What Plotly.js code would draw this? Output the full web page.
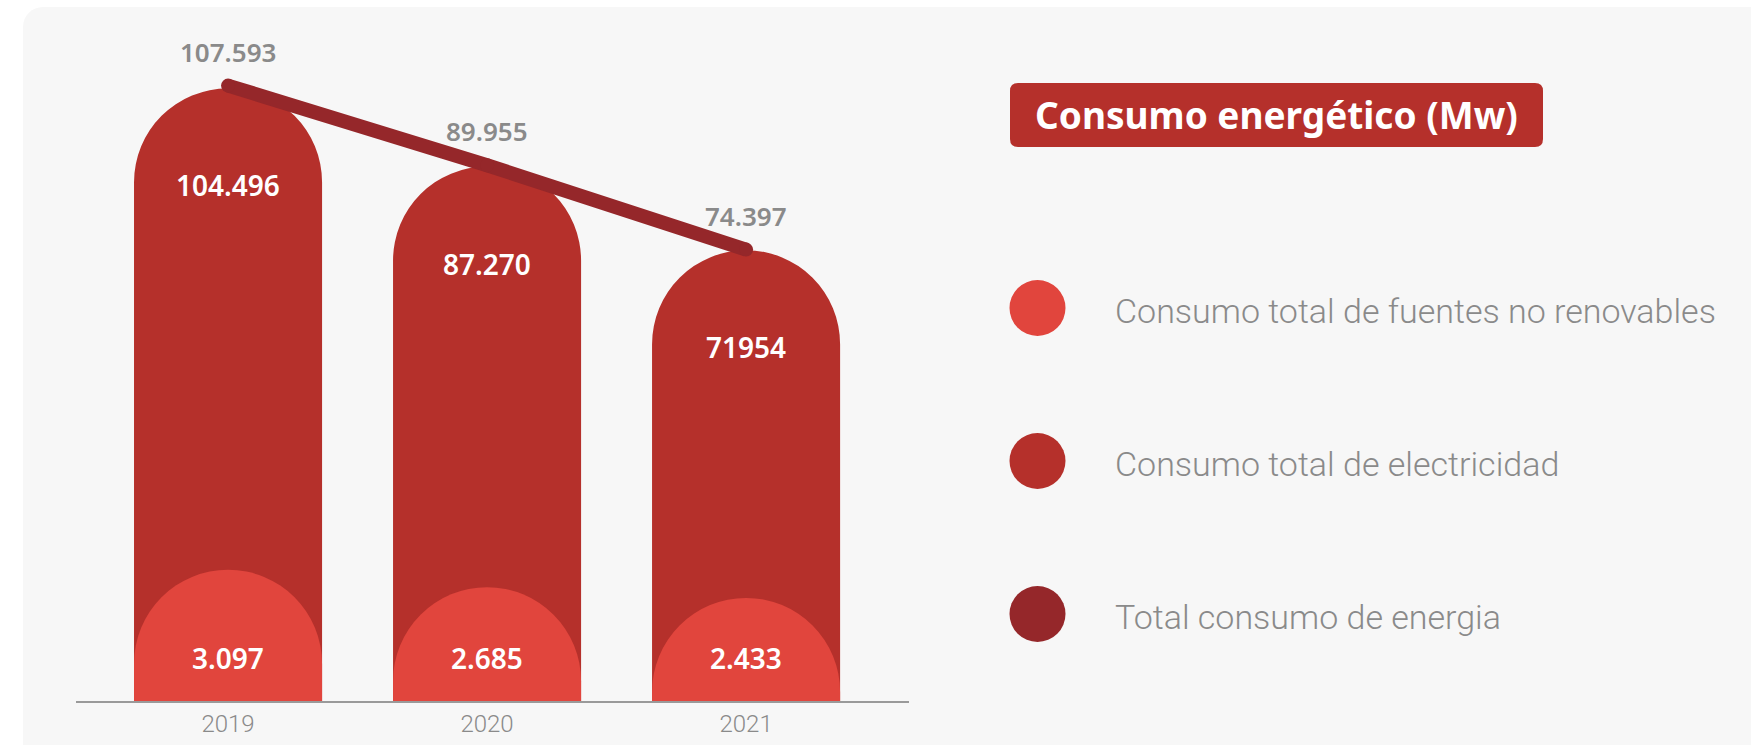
<!DOCTYPE html>
<html><head><meta charset="utf-8">
<script src="https://cdn.plot.ly/plotly-3.0.1.min.js"></script>
<style>
html,body{margin:0;padding:0;background:#ffffff;width:1751px;height:745px;overflow:hidden}
#panel{position:absolute;left:23px;top:7px;width:1770px;height:770px;background:#f7f7f7;border-radius:20px}
#chart{position:absolute;left:0;top:0;width:1751px;height:745px}
</style></head><body>
<div id="panel"></div><div id="chart"></div>
<script>
// ---- data ----
const years = ['2019', '2020', '2021'];
const noRenovables = [3097, 2685, 2433];
const electricidad = [104496, 87270, 71954];
const totalEnergia = [107593, 89955, 74397];
const labelsNoRenovables = ['3.097', '2.685', '2.433'];
const labelsElectricidad = ['104.496', '87.270', '71954'];
const labelsTotal = ['107.593', '89.955', '74.397'];
const seriesNames = ['Consumo total de fuentes no renovables', 'Consumo total de electricidad', 'Total consumo de energia'];
const seriesColors = ['#E1453D', '#B5302B', '#95272A'];
const chartTitle = 'Consumo energético (Mw)';

// ---- helpers (pixel -> paper) ----
const W = 1751, PH = 701;
const fx = p => p / W;
const fy = p => (PH - p) / PH;

const barWidth = 0.726;

const traces = [
  {type:'bar', x: years, y: electricidad, yaxis:'y', width: barWidth,
   marker:{color: seriesColors[1], cornerradius:'50%', line:{width:0}}, name: seriesNames[1], showlegend:false, hoverinfo:'skip'},
  {type:'bar', x: years, y: noRenovables, yaxis:'y2', width: barWidth,
   marker:{color: seriesColors[0], cornerradius:'50%', line:{width:0}}, name: seriesNames[0], showlegend:false, hoverinfo:'skip'},
  {type:'scatter', mode:'lines+markers', x: years, y: totalEnergia, yaxis:'y3',
   line:{color: seriesColors[2], width: 14}, marker:{color: seriesColors[2], size: 14},
   name: seriesNames[2], showlegend:false, hoverinfo:'skip', cliponaxis:false}
];

const annotations = [];
const valFont = (size, color) => ({family:'Noto Sans, Open Sans, sans-serif', size: size, color: color, weight: 600});
years.forEach((yr, i) => {
  annotations.push({xref:'x', yref:'y3', x: i, y: Math.log10(totalEnergia[i]), yshift: 34,
    text: labelsTotal[i], showarrow:false, font: valFont(26, '#8a8a8a'), xanchor:'center', yanchor:'middle'});
  annotations.push({xref:'x', yref:'y', x: i, y: Math.log10(electricidad[i]), yshift: -97,
    text: labelsElectricidad[i], showarrow:false, font: valFont(28, '#ffffff'), xanchor:'center', yanchor:'middle'});
  annotations.push({xref:'x', yref:'paper', x: i, y: 0, yshift: 43,
    text: labelsNoRenovables[i], showarrow:false, font: valFont(28, '#ffffff'), xanchor:'center', yanchor:'middle'});
});

// title
annotations.push({xref:'paper', yref:'paper', x: fx(1276.5), y: fy(115), text: chartTitle, showarrow:false,
  font:{family:'Noto Sans, sans-serif', size: 37, color:'#ffffff', weight: 700}, xanchor:'center', yanchor:'middle'});

const shapes = [];
// rounded title box
(function(){
  const x0 = 1010, x1 = 1543, y0 = 83, y1 = 147, r = 8;
  const P = (x, y) => fx(x) + ',' + fy(y);
  const path = 'M' + P(x0 + r, y0) + ' L' + P(x1 - r, y0) + ' Q' + P(x1, y0) + ' ' + P(x1, y0 + r) +
    ' L' + P(x1, y1 - r) + ' Q' + P(x1, y1) + ' ' + P(x1 - r, y1) +
    ' L' + P(x0 + r, y1) + ' Q' + P(x0, y1) + ' ' + P(x0, y1 - r) +
    ' L' + P(x0, y0 + r) + ' Q' + P(x0, y0) + ' ' + P(x0 + r, y0) + ' Z';
  shapes.push({type:'path', xref:'paper', yref:'paper', path: path, fillcolor:'#B5302B', line:{width:0}, layer:'below'});
})();

// legend
const legendY = [308, 461, 614];
const legendOrder = [0, 1, 2];
legendOrder.forEach((s, k) => {
  const cx = 1037.5, cy = legendY[k], rr = 28;
  shapes.push({type:'circle', xref:'paper', yref:'paper', x0: fx(cx - rr), x1: fx(cx + rr), y0: fy(cy + rr), y1: fy(cy - rr),
    fillcolor: seriesColors[s], line:{width:0}});
  annotations.push({xref:'paper', yref:'paper', x: fx(1113), y: fy(cy + 3), text: seriesNames[s], showarrow:false,
    xanchor:'left', yanchor:'middle', font:{family:'Roboto, sans-serif', size: 34, color:'#8a8a8a', weight: 300}});
});

const layout = {
  width: 1751, height: 745,
  margin:{l:0, r:0, t:0, b:44, pad:0},
  paper_bgcolor:'rgba(0,0,0,0)', plot_bgcolor:'rgba(0,0,0,0)',
  barmode:'overlay', showlegend:false, hovermode:false,
  xaxis:{domain:[76/W, 909/W], type:'category', range:[-0.587, 2.629], showline:true, linecolor:'#9a9a9a', linewidth:2,
    showgrid:false, zeroline:false, ticks:'', tickfont:{family:'Roboto, sans-serif', size:24, color:'#8a8a8a', weight:300}, fixedrange:true},
  yaxis:{type:'log', range:[4.4060, 5.1075], visible:false, fixedrange:true},
  yaxis2:{overlaying:'y', range:[0, 16540], visible:false, fixedrange:true},
  yaxis3:{overlaying:'y', type:'log', range:[4.4306, 5.1154], visible:false, fixedrange:true},
  annotations: annotations,
  shapes: shapes
};

Plotly.newPlot('chart', traces, layout, {staticPlot:true, displayModeBar:false});
</script>
</body></html>
